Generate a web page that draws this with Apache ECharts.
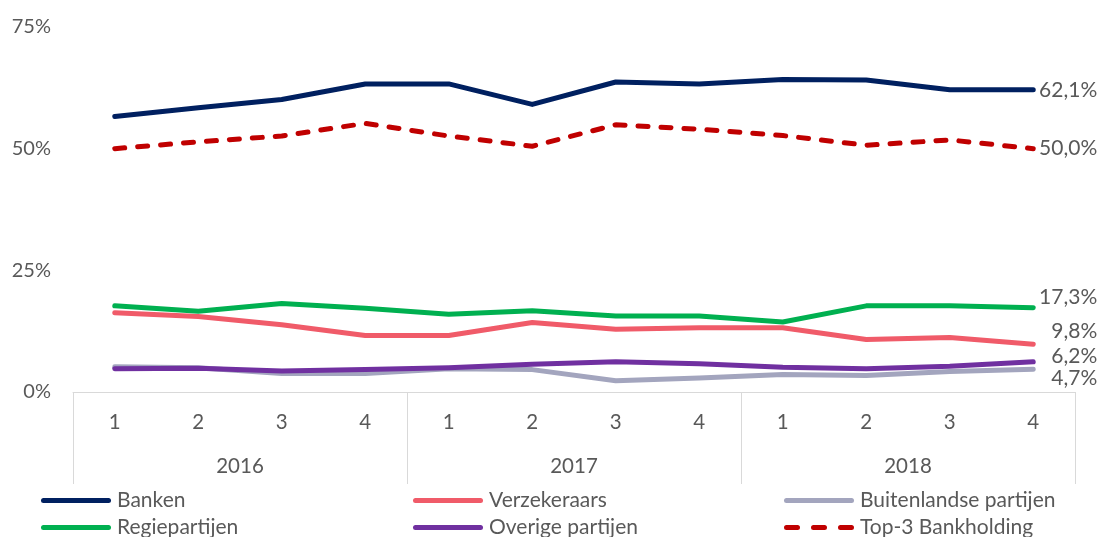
<!DOCTYPE html>
<html>
<head>
<meta charset="utf-8">
<script src="https://cdn.jsdelivr.net/npm/echarts@6/dist/echarts.min.js"></script>
<style>
  html, body { margin: 0; padding: 0; background: #fff; }
  #chart { width: 1100px; height: 537px; }
</style>
</head>
<body>
<div id="chart"></div>
<script>
// Quarter and year labels for the two-level category axis
const quarters = ['1', '2', '3', '4', '1', '2', '3', '4', '1', '2', '3', '4'];
const years = ['2016', '2017', '2018'];

// Market shares per quarter (%)
const banken = [56.6, 58.4, 60.1, 63.3, 63.3, 59.1, 63.7, 63.3, 64.2, 64.1, 62.1, 62.1];
const verzekeraars = [16.3, 15.5, 13.8, 11.6, 11.6, 14.3, 12.9, 13.2, 13.2, 10.8, 11.2, 9.8];
const buitenlandse = [5.2, 5.0, 3.8, 3.8, 4.8, 4.6, 2.3, 2.9, 3.6, 3.4, 4.2, 4.7];
const regiepartijen = [17.7, 16.6, 18.2, 17.2, 16.0, 16.7, 15.6, 15.6, 14.4, 17.7, 17.7, 17.3];
const overige = [4.8, 4.9, 4.3, 4.6, 5.0, 5.7, 6.2, 5.8, 5.1, 4.8, 5.3, 6.2];
const top3 = [50.0, 51.4, 52.6, 55.2, 52.6, 50.5, 54.9, 54.0, 52.7, 50.7, 51.8, 50.0];

// Y axis ticks (%)
const yTicks = { min: 0, max: 75, step: 25 };

const FONT = 'Lato';
const TEXT = '#595959';
const AXIS = '#d9d9d9';

// Legend swatches: a rounded bar, and three rounded dashes for the dashed series
const ICON_SOLID = 'path://M2.5,0h65a2.5,2.5 0 0 1 0,5h-65a2.5,2.5 0 0 1 0,-5z';
const ICON_DASHED = 'path://M2.5,0h11a2.5,2.5 0 0 1 0,5h-11a2.5,2.5 0 0 1 0,-5z' +
  'M29.5,0h11a2.5,2.5 0 0 1 0,5h-11a2.5,2.5 0 0 1 0,-5z' +
  'M56.5,0h11a2.5,2.5 0 0 1 0,5h-11a2.5,2.5 0 0 1 0,-5z';

function pct(v) { return v.toFixed(1).replace('.', ',') + '%'; }

function lineSeries(name, data, color, labelDy, dashed) {
  return {
    name: name,
    type: 'line',
    data: data,
    xAxisIndex: 0,
    symbol: 'none',
    showSymbol: false,
    animation: false,
    lineStyle: {
      color: color,
      width: 5,
      type: dashed ? [10, 13] : 'solid',
      cap: 'round',
      join: 'round'
    },
    itemStyle: { color: color },
    endLabel: {
      show: true,
      formatter: p => pct(p.value),
      color: TEXT,
      fontFamily: FONT,
      fontSize: 21,
      distance: 5,
      align: 'right',
      offset: [59, labelDy]
    }
  };
}

// One legend block per entry so the three-column layout can be placed precisely
function legendAt(name, left, top, dashed) {
  return {
    data: [{ name: name, icon: dashed ? ICON_DASHED : ICON_SOLID }],
    left: left,
    top: top,
    padding: 0,
    itemWidth: 70,
    itemHeight: 5,
    itemGap: 6,
    selectedMode: false,
    textStyle: { color: TEXT, fontFamily: FONT, fontSize: 21, padding: [0, 0, 0, 1] }
  };
}

const chart = echarts.init(document.getElementById('chart'), null, { renderer: 'canvas' });

chart.setOption({
  backgroundColor: '#ffffff',
  animation: false,
  textStyle: { fontFamily: FONT },
  grid: { left: 73, right: 25, top: 27, bottom: 145, containLabel: false },
  legend: [
    legendAt('Banken', 41, 490),
    legendAt('Verzekeraars', 413, 490),
    legendAt('Buitenlandse partijen', 784, 490),
    legendAt('Regiepartijen', 41, 517),
    legendAt('Overige partijen', 413, 517),
    legendAt('Top-3 Bankholding', 784, 517, true)
  ],
  xAxis: [
    {
      type: 'category',
      data: quarters,
      boundaryGap: true,
      axisLine: { show: true, lineStyle: { color: AXIS, width: 1 } },
      axisTick: { show: false },
      axisLabel: { color: TEXT, fontFamily: FONT, fontSize: 20.5, margin: 20 },
      splitLine: { show: false }
    },
    {
      type: 'category',
      data: years,
      position: 'bottom',
      boundaryGap: true,
      axisLine: { show: false },
      axisTick: { show: true, length: 92, lineStyle: { color: AXIS, width: 1 } },
      axisLabel: { color: TEXT, fontFamily: FONT, fontSize: 20.5, margin: 64 },
      splitLine: { show: false }
    }
  ],
  yAxis: {
    type: 'value',
    min: yTicks.min,
    max: yTicks.max,
    interval: yTicks.step,
    axisLine: { show: false },
    axisTick: { show: false },
    splitLine: { show: false },
    axisLabel: {
      formatter: '{value}%',
      color: TEXT,
      fontFamily: FONT,
      fontSize: 20,
      margin: 22
    }
  },
  series: [
    lineSeries('Banken', banken, '#002060', 0),
    lineSeries('Verzekeraars', verzekeraars, '#f05b69', -13),
    lineSeries('Buitenlandse partijen', buitenlandse, '#a3a5be', 9),
    lineSeries('Regiepartijen', regiepartijen, '#00b050', -11),
    lineSeries('Overige partijen', overige, '#7030a0', -6),
    lineSeries('Top-3 Bankholding', top3, '#c00000', 0, true)
  ]
});
</script>
</body>
</html>
